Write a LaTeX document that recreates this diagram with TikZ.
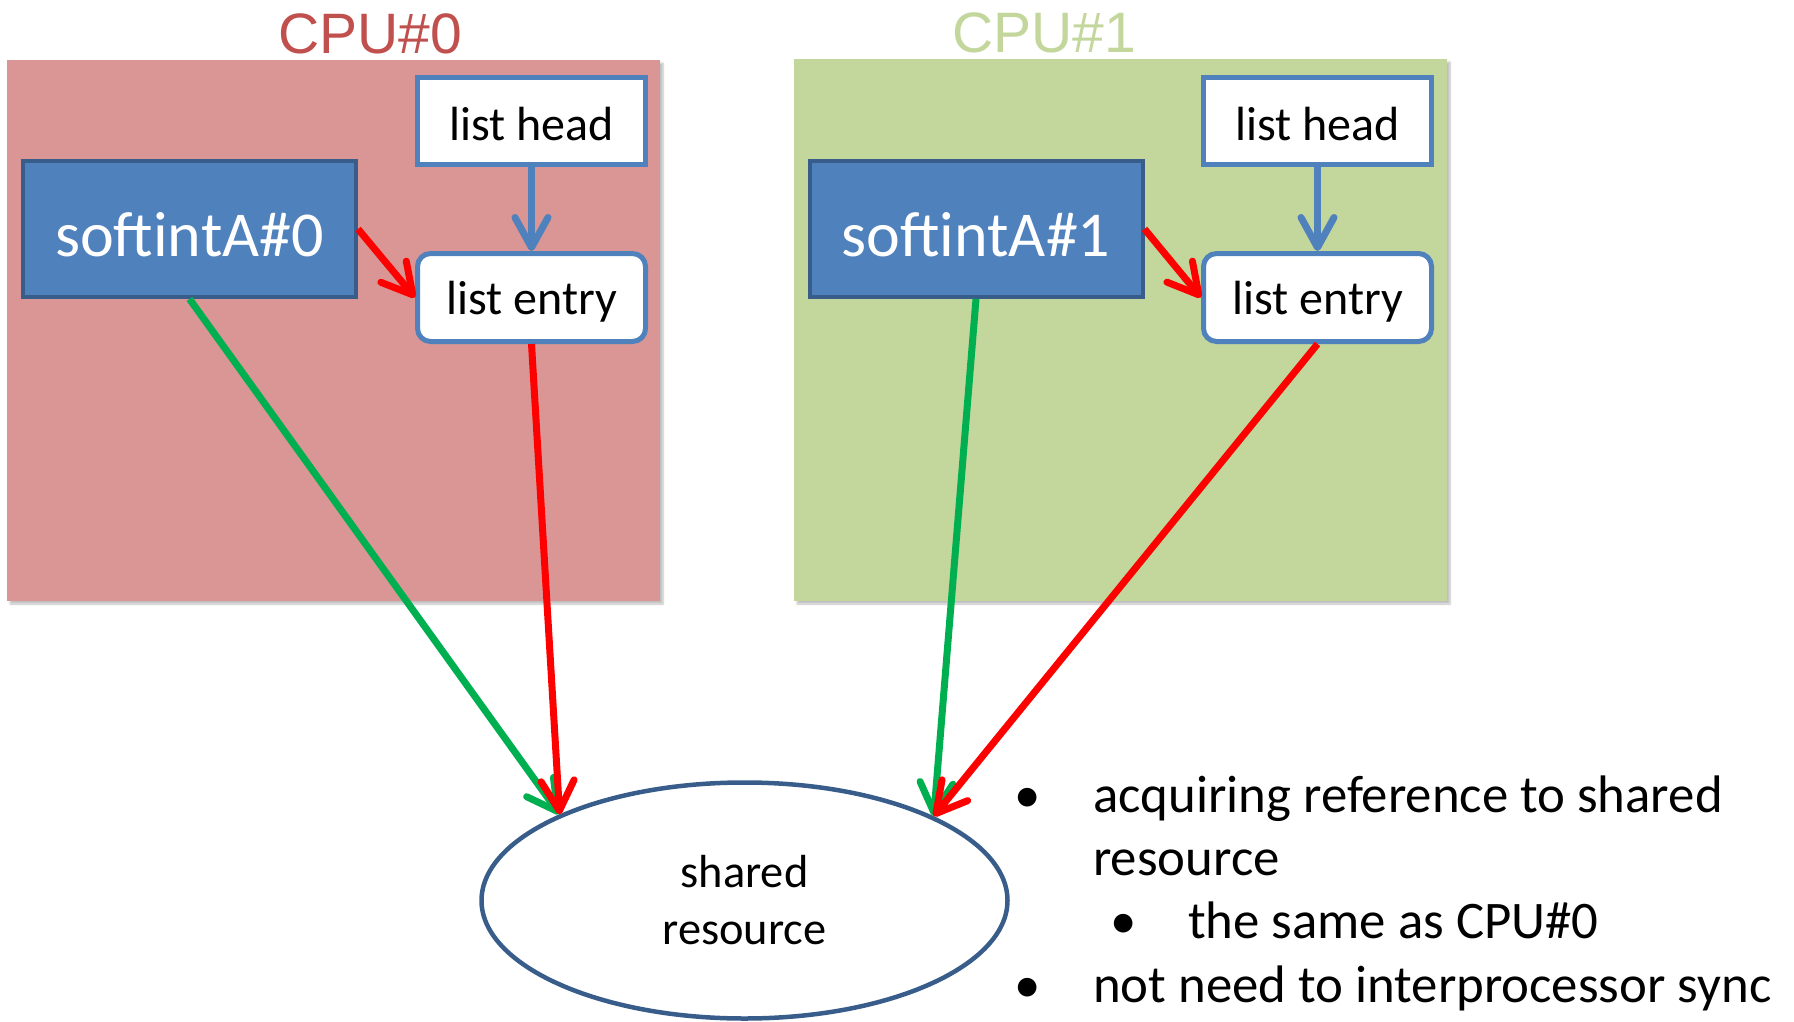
\documentclass[tikz,border=0pt]{standalone}
\usepackage{fontspec}
\setmainfont{Carlito}
\newfontfamily\titlefont{Liberation Sans}
\usetikzlibrary{arrows.meta,shapes.geometric,shadows.blur}

\definecolor{panelred}{HTML}{D99694}
\definecolor{titlered}{HTML}{C0504D}
\definecolor{panelgreen}{HTML}{C3D69B}
\definecolor{titlegreen}{HTML}{C3D69B}
\definecolor{boxblue}{HTML}{4F81BD}
\definecolor{boxedge}{HTML}{385D8A}
\definecolor{linkgreen}{HTML}{00B050}
\definecolor{linkred}{HTML}{FF0000}

\tikzset{
  panel/.style={rectangle, inner sep=0pt, draw=none,
    blur shadow={shadow xshift=3pt, shadow yshift=-3pt, shadow opacity=25, shadow blur steps=6}},
  cputitle/.style={anchor=base, inner sep=0pt, font=\titlefont\fontsize{57}{68}\selectfont},
  softbox/.style={rectangle, draw=boxedge, fill=boxblue, line width=4pt, inner sep=0pt,
    minimum width=333pt, minimum height=136pt, text=white,
    font=\fontsize{64}{76}\selectfont, text height=64pt, text depth=10pt},
  headbox/.style={rectangle, draw=boxblue, fill=white, line width=5pt, inner sep=0pt,
    minimum width=228pt, minimum height=87pt,
    font=\fontsize{48}{58}\selectfont, text height=48pt, text depth=8pt},
  entrybox/.style={headbox, rounded corners=13pt, minimum height=88pt,
    text height=42pt, text depth=8pt},
  resource/.style={ellipse, draw=boxedge, fill=white, line width=4.5pt, inner sep=0pt,
    minimum width=526pt, minimum height=236pt, align=center,
    font=\fontsize{46.4}{57}\selectfont},
  tip/.style={-{Straight Barb[round, length=30pt, width=33pt]}},
  link/.style={line width=7pt, tip},
  bulletmark/.style={anchor=base, inner sep=0pt, font=\fontsize{52.8}{63}\selectfont},
  bullettext/.style={anchor=base west, inner sep=0pt, font=\fontsize{52.8}{63}\selectfont}
}

\begin{document}
\begin{tikzpicture}[x=1pt, y=-1pt]
\useasboundingbox (0,0) rectangle (1794,1022);

% CPU panels and their titles
\node[panel, fill=panelred, minimum width=653pt, minimum height=541pt] (p0) at (333.5,330.5) {};
\node[panel, fill=panelgreen, minimum width=653pt, minimum height=542pt] (p1) at (1120.5,330) {};
\node[cputitle, text=titlered] (t0) at (370,54) {CPU\#0};
\node[cputitle, text=titlegreen] (t1) at (1044,53) {CPU\#1};

% CPU#0 contents
\node[softbox] (s0) at (189.5,229) {softintA\#0};
\node[headbox] (h0) at (531.5,121) {list head};
\node[entrybox] (e0) at (531.5,297.5) {list entry};

% CPU#1 contents
\node[softbox] (s1) at (976,229) {softintA\#1};
\node[headbox] (h1) at (1317.5,121) {list head};
\node[entrybox] (e1) at (1317.5,297.5) {list entry};

% shared resource
\node[resource] (res) at (744.5,900.5) {shared\\resource};

% links inside each CPU
\draw[link, boxblue] (h0.south) -- (e0.north);
\draw[link, boxblue] (h1.south) -- (e1.north);
\draw[link, linkred] (s0.east) -- (e0.west);
\draw[link, linkred] (s1.east) -- (e1.west);

% references to the shared resource
\draw[link, linkgreen] (s0.south) -- (res.155);
\draw[link, linkred] (e0.south) -- (res.155);
\draw[link, linkgreen] (s1.south) -- (res.24);
\draw[link, linkred] (e1.south) -- (res.24);

% notes
\node[bulletmark] (m1) at (1028,812) {•};
\node[bullettext] (n1) at (1093,812) {acquiring reference to shared};
\node[bullettext] (n2) at (1093,875) {resource};
\node[bulletmark] (m2) at (1124,938) {•};
\node[bullettext] (n3) at (1188,938) {the same as CPU\#0};
\node[bulletmark] (m3) at (1028,1002) {•};
\node[bullettext] (n4) at (1093,1002) {not need to interprocessor sync};
\end{tikzpicture}
\end{document}
